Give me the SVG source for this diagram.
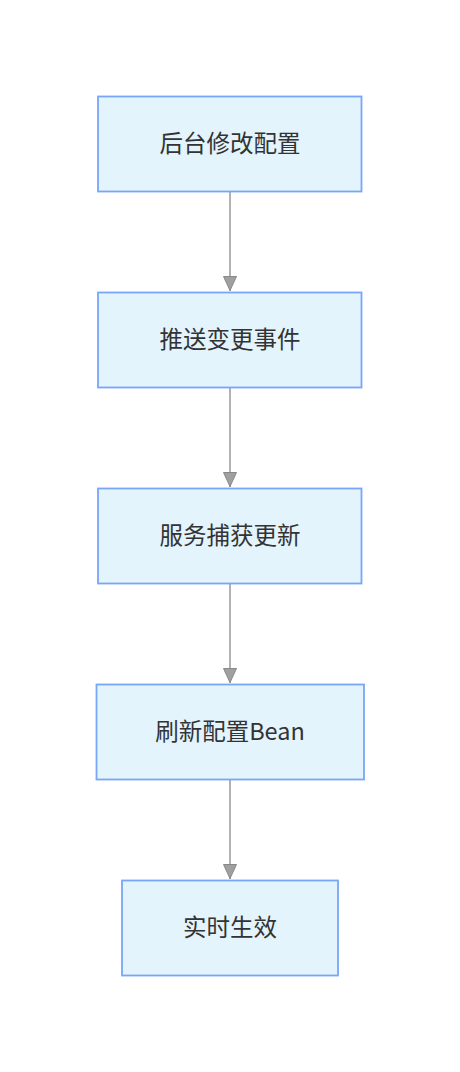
<svg xmlns="http://www.w3.org/2000/svg" width="460" height="1072" viewBox="0 0 460 1072">
<defs>
<style>
.node rect{fill:#e3f4fd;stroke:#78a6f8;stroke-width:1.8}
.node text{font-family:"Noto Sans CJK SC","Noto Sans",sans-serif;font-size:23.5px;fill:#333;text-anchor:middle;dominant-baseline:central}
.edge{stroke:#999;stroke-width:1.5;fill:none}
</style>
<marker id="arr" viewBox="0 0 15 14" refX="15" refY="7" markerWidth="15" markerHeight="14" markerUnits="userSpaceOnUse" orient="auto">
<path d="M0.5,0.5 L14.5,7 L0.5,13.5 Z" fill="#a0a0a0" stroke="#888" stroke-width="1"/>
</marker>
</defs>
<rect width="460" height="1072" fill="#fff"/>
<g id="connectors">
<path class="edge" d="M230,192 V291" marker-end="url(#arr)"/>
<path class="edge" d="M230,388 V487" marker-end="url(#arr)"/>
<path class="edge" d="M230,584 V683" marker-end="url(#arr)"/>
<path class="edge" d="M230,780 V879" marker-end="url(#arr)"/>
</g>
<g id="n1" class="node"><rect x="98" y="96.5" width="263.5" height="95"/><text x="230" y="142">后台修改配置</text></g>
<g id="n2" class="node"><rect x="98" y="292.5" width="263.5" height="95"/><text x="230" y="338">推送变更事件</text></g>
<g id="n3" class="node"><rect x="98" y="488.5" width="263.5" height="95"/><text x="230" y="534">服务捕获更新</text></g>
<g id="n4" class="node"><rect x="96.5" y="684.5" width="267.5" height="95"/><text x="230" y="730">刷新配置Bean</text></g>
<g id="n5" class="node"><rect x="122" y="880.5" width="216" height="95"/><text x="230" y="926">实时生效</text></g>
</svg>
